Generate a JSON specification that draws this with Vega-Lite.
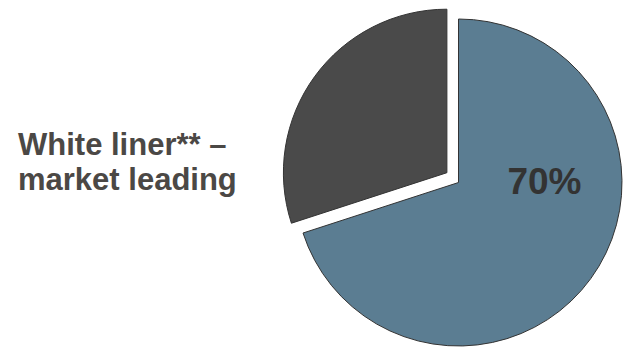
{
  "$schema": "https://vega.github.io/schema/vega-lite/v6.json",
  "width": 327,
  "height": 327,
  "autosize": "none",
  "padding": {"left": 295, "top": 19, "right": 1, "bottom": 1},
  "background": "white",
  "config": {"view": {"stroke": null}},
  "data": {
    "values": [
      {"segment": "White liner", "share": 70},
      {"segment": "Other", "share": 30}
    ]
  },
  "layer": [
    {
      "mark": {"type": "arc", "radius": 163.5, "stroke": "#333333", "strokeWidth": 1},
      "encoding": {
        "theta": {"field": "share", "type": "quantitative", "stack": true},
        "order": {"field": "share", "sort": "descending"},
        "color": {
          "field": "segment",
          "type": "nominal",
          "scale": {"domain": ["White liner", "Other"], "range": ["#5b7d92", "#4a4a4a"]},
          "legend": null
        },
        "opacity": {"condition": {"test": "datum.segment === 'Other'", "value": 0}, "value": 1}
      }
    },
    {
      "mark": {"type": "arc", "radius": 163.5, "stroke": "#333333", "strokeWidth": 1, "xOffset": -11.6, "yOffset": -9.8},
      "encoding": {
        "theta": {"field": "share", "type": "quantitative", "stack": true},
        "order": {"field": "share", "sort": "descending"},
        "color": {
          "field": "segment",
          "type": "nominal",
          "scale": {"domain": ["White liner", "Other"], "range": ["#5b7d92", "#4a4a4a"]},
          "legend": null
        },
        "opacity": {"condition": {"test": "datum.segment === 'White liner'", "value": 0}, "value": 1}
      }
    },
    {
      "data": {"values": [{"label": "70%"}]},
      "mark": {
        "type": "text",
        "theta": 1.5708,
        "radius": 86,
        "align": "center",
        "baseline": "middle",
        "font": "Liberation Sans",
        "fontSize": 37,
        "fontWeight": "bold",
        "color": "#333333"
      },
      "encoding": {"text": {"field": "label", "type": "nominal"}}
    },
    {
      "data": {"values": [{"label": "White liner** –\nmarket leading"}]},
      "mark": {
        "type": "text",
        "x": -277,
        "y": 135.5,
        "align": "left",
        "baseline": "alphabetic",
        "lineBreak": "\n",
        "lineHeight": 35.5,
        "font": "Liberation Sans",
        "fontSize": 31,
        "fontWeight": "bold",
        "color": "#4b4845"
      },
      "encoding": {"text": {"field": "label", "type": "nominal"}}
    }
  ]
}
